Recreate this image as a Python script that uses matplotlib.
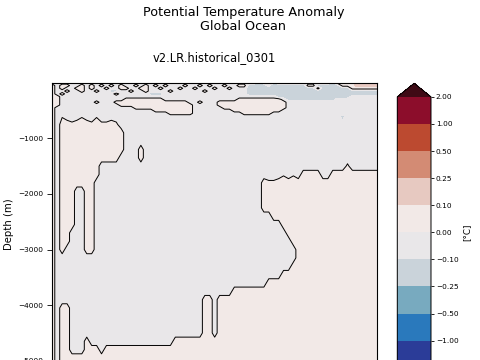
import numpy as np
import matplotlib
matplotlib.use('Agg')
import matplotlib.pyplot as plt
from matplotlib.colors import ListedColormap, BoundaryNorm
from matplotlib.ticker import FuncFormatter

# time axis (model years) and depth levels of the anomaly field
years = np.arange(1850, 2016, 2.5)
depths = np.array([0, -50, -100, -150, -200, -250, -300, -350, -400, -450, -500, -550, -600,
                   -750, -900, -1050, -1200, -1350, -1500, -1650, -1800, -1950, -2100, -2250,
                   -2400, -2550, -2700, -2850, -3000, -3150, -3300, -3450, -3600, -3750, -3900,
                   -4050, -4200, -4350, -4500, -4650, -4800, -4950, -5100, -5250, -5400])

# anomaly, one character per (depth, year) cell
anomaly_class = {'B': -0.3, 'b': -0.15, '.': -0.05, ',': -0.01,
                 '*': 0.02, '+': 0.05, 'p': 0.15}
anomaly_map = [
    ".........." ".........." ".........." ".........." ".........." "........++" "++ppppp",
    "+.++..+.+." "+.+.+..+.+" ".+.+...+.." "+.+..+..++" "bbBb.Bbbbb" "bb++bbbBb+" "++ppppp",
    "+.+..++.+." ".+..++..++" "..+...+..+" "...+..+..." "bbbbbbbbbb" "bbbb+bbbbb" "b++++++",
    "+..+..+..+" "..bb..+..+" "....+....." ".+........" "bbbbbbbbbb" "bbbbbbbbbb" "bbbbbbb",
    "+.+......." "...+......" "bbb......." ".........." "bbbbbbbbbB" "bbbbbbbbbb" "bbbbbbb",
    "++........" ".........." ".........." ".........." "......bbbb" "bbbbbbbbbb" "b......",
    "++........" ".....+++++" "+++......." "........++" "+++++++.bb" "bbbbbbbb.." ".......",
    "++.......+" "...+++++++" "++++++++.." "+...++++++" "++++++++.." ".........." ".......",
    "++........" "....++++++" "+++++++++." "....++++++" "++++++++.." ".........." ".......",
    "+........." ".......+++" "+++++++++." ".....+++++" "++++++++.." ".........." ".......",
    "+........." ".........." ".++++++++." ".......+++" "+++++++..." ".........." ".......",
    "+........." ".........." "....+++++." ".........+" "+++++....." ".........." ".......",
    "+.,...,..," ".........." ".........." ".........." ".........." ".........b" ".......",
    "+.++*+++*+" "**+*......" ".........." ".........." ".........." ".........." ".......",
    "+.++++++++" "+++++....." ".........." ".........." ".........." ".........." ".......",
    "+.++++++++" "+++++....." ".........." ".........." ".........." ".........." ".......",
    "+.++++++++" "+++++...+." ".........." ".........." ".........." ".........." ".......",
    "+.++++++++" "++++....+." ".........." ".........." ".........." ".........." ".......",
    "+.++++++++" ".........." ".........." ".........." ".........." ".........." "*......",
    "+.++++++++" ".........." ".........." ".........." ".......,.," ".++++..+++" "+++++++",
    "+.+++++++." ".........." ".........." ".........." "...+**++++" "++++++++++" "+++++++",
    "+.+++..++." ".........." ".........." ".........." "...+++++++" "++++++++++" "+++++++",
    "+.+++..++." ".........." ".........." ".........." "...+++++++" "++++++++++" "+++++++",
    "+.+++..++." ".........." ".........." ".........." "...+++++++" "++++++++++" "+++++++",
    "+.+++..++." ".........." ".........." ".........." ".....+++++" "++++++++++" "+++++++",
    "+.+++..++." ".........." ".........." ".........." ".......+++" "++++++++++" "+++++++",
    "+.++...++." ".........." ".........." ".........." "........++" "++++++++++" "+++++++",
    "+.++...++." ".........." ".........." ".........." ".........+" "++++++++++" "+++++++",
    "+.+....++." ".........." ".........." ".........." ".........." "++++++++++" "+++++++",
    "+........." ".........." ".........." ".........." ".........." "++++++++++" "+++++++",
    "+........." ".........." ".........." ".........." ".........+" "++++++++++" "+++++++",
    "+........." ".........." ".........." ".........." ".......+++" "++++++++++" "+++++++",
    "+........." ".........." ".........." ".........." "....++++++" "++++++++++" "+++++++",
    "+........." ".........." ".........." ".......+++" "++++++++++" "++++++++++" "+++++++",
    "+........." ".........." ".........." ".++.++++++" "++++++++++" "++++++++++" "+++++++",
    "+.++......" ".........." ".........." ".++.++++++" "++++++++++" "++++++++++" "+++++++",
    "+.++......" ".........." ".........." ".++.++++++" "++++++++++" "++++++++++" "+++++++",
    "+.++......" ".........." ".........." ".++.++++++" "++++++++++" "++++++++++" "+++++++",
    "+.++......" ".........." ".........." ".++.++++++" "++++++++++" "++++++++++" "+++++++",
    "+.++...+.." ".........." ".....+++++" "++++++++++" "++++++++++" "++++++++++" "+++++++",
    "+.++...+++" ".+++++++++" "++++++++++" "++++++++++" "++++++++++" "++++++++++" "+++++++",
    "+.++++++++" "++++++++++" "++++++++++" "++++++++++" "++++++++++" "++++++++++" "+++++++",
    "+.++++++++" "++++++++++" "++++++++++" "++++++++++" "++++++++++" "++++++++++" "+++++++",
    "++++++++++" "++++++++++" "++++++++++" "++++++++++" "++++++++++" "++++++++++" "+++++++",
    "++++++++++" "++++++++++" "++++++++++" "++++++++++" "++++++++++" "++++++++++" "+++++++",
]
field = np.array([[anomaly_class[c] for c in row] for row in anomaly_map])
assert field.shape == (len(depths), len(years)), field.shape

levels = [-2.0, -1.0, -0.5, -0.25, -0.1, 0.0, 0.1, 0.25, 0.5, 1.0, 2.0]
band_colors = ['#2b3c98', '#2a79bc', '#78aabf', '#cad3da', '#e9e7e9',
               '#f2e9e7', '#e7c9c1', '#d38b74', '#bc4a30', '#8c0d2b']

cmap = ListedColormap(band_colors)
cmap.set_over('#3f0a15')
cmap.set_under('#161b44')
norm = BoundaryNorm(levels, cmap.N)

fig = plt.figure(figsize=(4.8, 3.6), dpi=100)
ax = fig.add_axes([0.109, -0.0639, 0.6765, 0.8325])
cax = fig.add_axes([0.8277, -0.0592, 0.0702, 0.8278])

cs = ax.contourf(years, depths, field, levels=levels, cmap=cmap, norm=norm, extend='both')
ax.contour(years, depths, field, levels=[0.0], colors='k', linewidths=0.7)

ax.set_xlim(1850, 2015)
ax.set_ylim(-5400, -10)
ax.set_yticks([-5000, -4000, -3000, -2000, -1000])
ax.tick_params(labelsize=5.3, length=3.5, width=0.6, pad=3)
ax.tick_params(axis='x', labelbottom=False)  # time axis lies below the visible area
ax.set_ylabel('Depth (m)', fontsize=7.3)
ax.yaxis.set_label_coords(-0.118, 0.53)
ax.set_title('v2.LR.historical_0301', fontsize=8.3, pad=16)

fig.text(0.507, 1 - 16 / 360, 'Potential Temperature Anomaly', fontsize=9.2,
         ha='center', va='baseline')
fig.text(0.507, 1 - 30 / 360, 'Global Ocean', fontsize=9.2,
         ha='center', va='baseline')

cb = fig.colorbar(cs, cax=cax, ticks=levels)
cb.ax.yaxis.set_major_formatter(FuncFormatter(lambda v, p: f'{v:.2f}'.replace('-', '\u2212')))
cb.ax.tick_params(labelsize=5.3, length=2, width=0.6, pad=1.5)
cb.outline.set_linewidth(0.7)
cb.set_label('[\u00b0C]', fontsize=6.3, labelpad=3)

fig.savefig('out.png', dpi=100)
